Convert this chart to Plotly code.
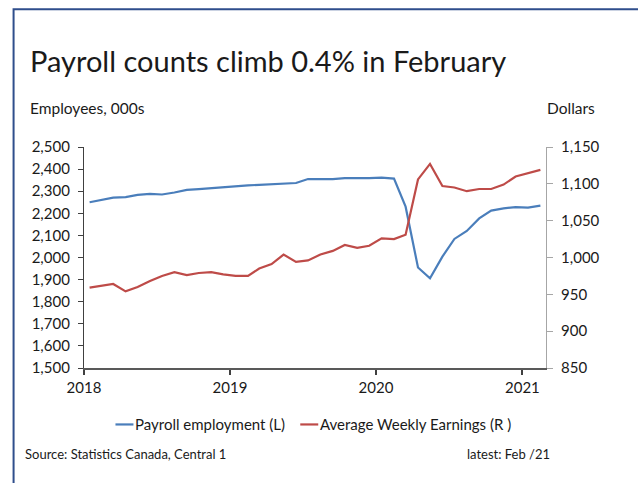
import pandas as pd
import plotly.graph_objects as go

# Monthly observations, Jan 2018 - Feb 2021
months = pd.date_range("2018-01-01", periods=38, freq="MS") + pd.Timedelta(days=14)

payroll_employment = [
    2250, 2261, 2271, 2273, 2283, 2288, 2285, 2294, 2306, 2309, 2314, 2317,
    2322, 2326, 2329, 2332, 2334, 2337, 2355, 2354, 2355, 2359, 2358, 2359,
    2361, 2357, 2230, 1955, 1906, 2004, 2084, 2120, 2177, 2212, 2222, 2228,
    2226, 2235,
]
weekly_earnings = [
    959, 962, 964, 954, 960, 968, 975, 980, 976, 979, 980, 977,
    975, 975, 985, 991, 1004, 994, 996, 1004, 1009, 1017, 1013, 1016,
    1026, 1025, 1031, 1106, 1127, 1097, 1095, 1090, 1093, 1093, 1099, 1110,
    1115, 1119,
]
year_ticks = ["2018-01-01", "2019-01-01", "2020-01-01", "2021-01-01"]
year_labels = ["2018", "2019", "2020", "2021"]

series_names = ["Payroll employment (L)", "Average Weekly Earnings (R )"]
series_colors = ["#4A7EBB", "#BE4B48"]

W, H = 638, 483
ML, MR, MT, MB = 83.5, 92, 147.3, 115.3
PW, PH = W - ML - MR, H - MT - MB


def px_x(px):
    return (px - ML) / PW


def px_y(py):
    return (H - MB - py) / PH


FONT = "Lato"
TXT = "#1a1a1a"

fig = go.Figure()
fig.add_trace(go.Scatter(
    x=months, y=payroll_employment, name=series_names[0],
    mode="lines", line=dict(color=series_colors[0], width=2.2), yaxis="y",
))
fig.add_trace(go.Scatter(
    x=months, y=weekly_earnings, name=series_names[1],
    mode="lines", line=dict(color=series_colors[1], width=2.2), yaxis="y2",
))

fig.update_layout(
    width=W, height=H,
    margin=dict(l=ML, r=MR, t=MT, b=MB),
    paper_bgcolor="white", plot_bgcolor="white",
    font=dict(family=FONT, size=15, color=TXT),
    showlegend=False,
    xaxis=dict(
        type="date", range=["2018-01-01", "2021-03-01"],
        tickvals=year_ticks, ticktext=year_labels,
        ticks="outside", ticklen=5, tickcolor="#404040", tickwidth=1.5,
        showline=True, linecolor="#595959", linewidth=1.5,
        showgrid=False, zeroline=False, tickfont=dict(size=15),
    ),
    yaxis=dict(
        range=[1500, 2500], dtick=100, tickformat=",",
        ticks="outside", ticklen=5, tickcolor="#404040", ticklabelstandoff=5,
        showline=True, linecolor="#404040", linewidth=1.2,
        showgrid=False, zeroline=False, tickfont=dict(size=15),
    ),
    yaxis2=dict(
        range=[850, 1150], dtick=50, tickformat=",", overlaying="y", side="right",
        ticks="outside", ticklen=6, tickcolor="#A6A6A6", ticklabelstandoff=5,
        showline=True, linecolor="#A6A6A6", linewidth=1.2,
        showgrid=False, zeroline=False, tickfont=dict(size=15),
    ),
)

# outer frame
fig.add_shape(
    type="rect", xref="paper", yref="paper",
    x0=px_x(13), x1=px_x(700), y0=px_y(540), y1=px_y(10),
    line=dict(color="#2F4E8C", width=2), fillcolor="rgba(0,0,0,0)", layer="below",
)

# legend: short line key followed by the series name
legend_keys = [115, 300]
for key_x, name, color in zip(legend_keys, series_names, series_colors):
    fig.add_shape(
        type="line", xref="paper", yref="paper",
        x0=px_x(key_x), x1=px_x(key_x + 18), y0=px_y(424), y1=px_y(424),
        line=dict(color=color, width=2.2),
    )
    fig.add_annotation(
        text=name, xref="paper", yref="paper",
        x=px_x(key_x + 18), y=px_y(424), xanchor="left", yanchor="middle",
        showarrow=False, font=dict(family=FONT, size=15, color=TXT),
    )

notes = [
    dict(text="Payroll counts climb 0.4% in February", x=27, y=61, size=29, anchor="left"),
    dict(text="Employees, 000s", x=27, y=108, size=15.5, anchor="left"),
    dict(text="Dollars", x=597, y=108, size=15.5, anchor="right"),
    dict(text="Source: Statistics Canada, Central 1", x=22, y=453, size=13, anchor="left"),
    dict(text="latest: Feb /21", x=552, y=453, size=13, anchor="right"),
]
for n in notes:
    fig.add_annotation(
        text=n["text"], xref="paper", yref="paper",
        x=px_x(n["x"]), y=px_y(n["y"]), xanchor=n["anchor"], yanchor="middle",
        showarrow=False, font=dict(family=FONT, size=n["size"], color=TXT),
    )

fig.write_html("out.html")
